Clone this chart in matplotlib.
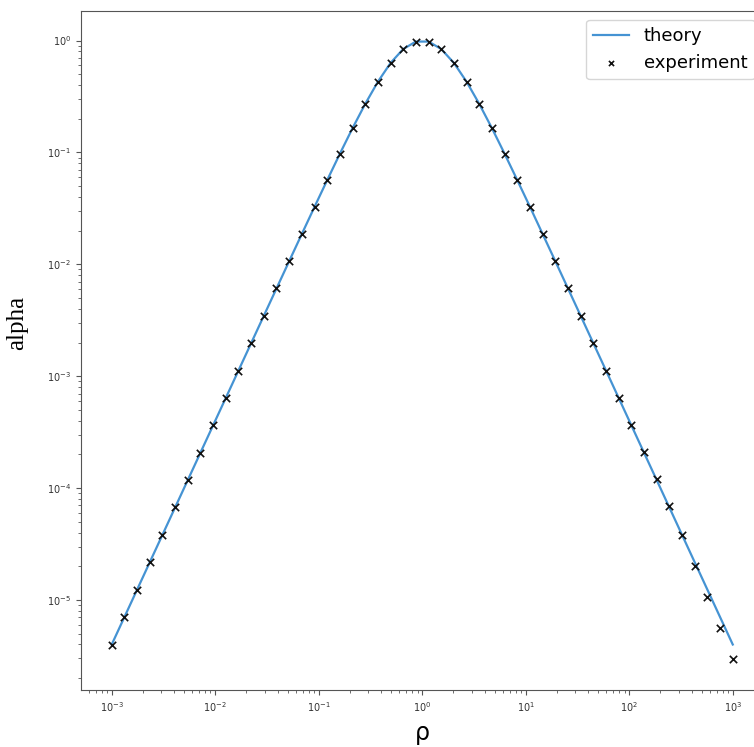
import numpy as np
from matplotlib import pyplot as plt

# rho grid: 50 points, evenly spaced in log from 1e-3 to 1e3
rho = [1.000e-03, 1.326e-03, 1.758e-03, 2.330e-03, 3.089e-03, 4.095e-03, 5.429e-03,
       7.197e-03, 9.541e-03, 1.265e-02, 1.677e-02, 2.223e-02, 2.947e-02, 3.907e-02,
       5.179e-02, 6.866e-02, 9.103e-02, 1.207e-01, 1.600e-01, 2.121e-01, 2.812e-01,
       3.728e-01, 4.942e-01, 6.551e-01, 8.685e-01, 1.151e+00, 1.526e+00, 2.024e+00,
       2.683e+00, 3.556e+00, 4.715e+00, 6.251e+00, 8.286e+00, 1.099e+01, 1.456e+01,
       1.931e+01, 2.560e+01, 3.393e+01, 4.498e+01, 5.964e+01, 7.906e+01, 1.048e+02,
       1.389e+02, 1.842e+02, 2.442e+02, 3.237e+02, 4.292e+02, 5.690e+02, 7.543e+02,
       1.000e+03]

# values (left half, right half is the mirror)
theory_left = [4.000e-06, 7.030e-06, 1.236e-05, 2.172e-05, 3.817e-05, 6.709e-05,
               1.179e-04, 2.072e-04, 3.641e-04, 6.397e-04, 1.124e-03, 1.974e-03,
               3.468e-03, 6.086e-03, 1.067e-02, 1.868e-02, 3.262e-02, 5.657e-02,
               9.733e-02, 1.648e-01, 2.716e-01, 4.285e-01, 6.310e-01, 8.405e-01,
               9.804e-01]
theory = theory_left + theory_left[::-1]

# crosses, they follow the curve except near the right end
experiment = [3.95e-06, 7.08e-06, 1.23e-05, 2.17e-05, 3.82e-05, 6.71e-05,
              1.18e-04, 2.07e-04, 3.64e-04, 6.40e-04, 1.12e-03, 1.97e-03,
              3.47e-03, 6.09e-03, 1.07e-02, 1.87e-02, 3.26e-02, 5.66e-02,
              9.73e-02, 1.65e-01, 2.72e-01, 4.28e-01, 6.31e-01, 8.40e-01,
              9.80e-01, 9.80e-01, 8.40e-01, 6.31e-01, 4.28e-01, 2.72e-01,
              1.65e-01, 9.73e-02, 5.66e-02, 3.26e-02, 1.87e-02, 1.07e-02,
              6.09e-03, 3.47e-03, 1.97e-03, 1.12e-03, 6.40e-04, 3.64e-04,
              2.10e-04, 1.20e-04, 6.90e-05, 3.77e-05, 2.03e-05, 1.07e-05,
              5.57e-06, 2.96e-06]

fig = plt.figure(figsize=(7.54, 7.47), dpi=100)
# the axes run a little past the right edge of the picture, as in the screenshot
ax = fig.add_axes([0.107, 0.0763, 0.906, 0.9094])

ax.plot(rho, theory, color='#4593d3', lw=1.6, label='theory')
ax.scatter(rho, experiment, marker='x', color='#111111', s=28, lw=1.2, zorder=3,
           label='experiment')

ax.set_xscale('log')
ax.set_yscale('log')

for sp in ax.spines.values():
    sp.set_color('#555555')
ax.tick_params(which='both', colors='#555555', labelsize=7, labelcolor='#333333')

ax.set_xlabel('ρ', fontsize=17)
ax.xaxis.set_label_coords(0.5, -0.046)
ax.set_ylabel('alpha', fontsize=18, family='Liberation Serif')
ax.yaxis.set_label_coords(-0.077, 0.54)

ax.legend(loc='upper right', fontsize=13, markerscale=0.7)

fig.savefig('out.png', dpi=100)
